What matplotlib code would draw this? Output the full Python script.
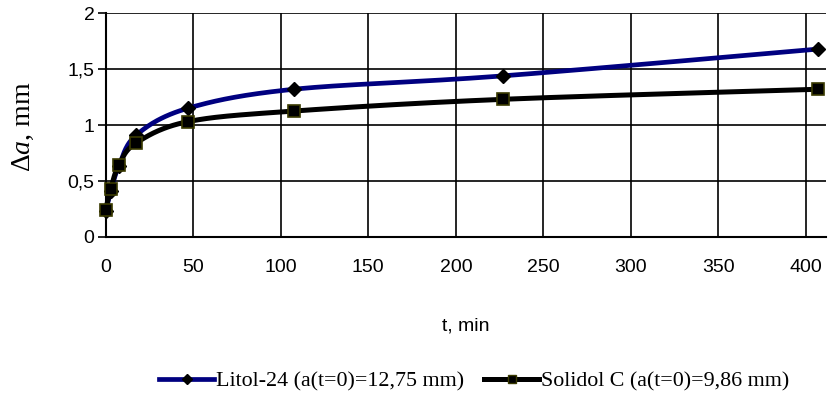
import numpy as np
import matplotlib
matplotlib.use("Agg")
import matplotlib.pyplot as plt
from matplotlib.lines import Line2D

plt.rcParams["mathtext.fontset"] = "custom"
plt.rcParams["mathtext.rm"] = "Liberation Serif"
plt.rcParams["mathtext.it"] = "Liberation Serif:italic"

# ---- data ----
t_min = [0, 3, 7.5, 17.5, 47, 107.5, 227, 407]
litol = [0.23, 0.41, 0.63, 0.91, 1.15, 1.32, 1.44, 1.68]
solidol = [0.24, 0.43, 0.64, 0.84, 1.03, 1.125, 1.23, 1.32]
x_ticks = [0, 50, 100, 150, 200, 250, 300, 350, 400]
y_ticks = [0, 0.5, 1, 1.5, 2]
y_tick_labels = ["0", "0,5", "1", "1,5", "2"]
series_labels = ["Litol-24 (a(t=0)=12,75 mm)", "Solidol C (a(t=0)=9,86 mm)"]

W, H = 831, 394
fig = plt.figure(figsize=(W / 100, H / 100), dpi=100)
L, R, B, T = 105.6, 826, 236.7, 13.3
ax = fig.add_axes([L / W, (H - B) / H, (R - L) / W, (B - T) / H])
xmax = 411.4
ax.set_xlim(0, xmax)
ax.set_ylim(0, 2)

sx = (R - L) / xmax
sy = (B - T) / 2.0


def smooth(xs, ys, n=40):
    # Excel-style smoothed line: cubic Bezier with Catmull-Rom tangents (1/6), in pixel space
    P = np.column_stack([np.asarray(xs) * sx, np.asarray(ys) * sy])
    out = []
    m = len(P)
    for i in range(m - 1):
        p0 = P[i - 1] if i > 0 else P[i]
        p1, p2 = P[i], P[i + 1]
        p3 = P[i + 2] if i + 2 < m else P[i + 1]
        c1 = p1 + (p2 - p0) / 6.0
        c2 = p2 - (p3 - p1) / 6.0
        s = np.linspace(0, 1, n)[:, None]
        seg = ((1 - s) ** 3) * p1 + 3 * ((1 - s) ** 2) * s * c1 + 3 * (1 - s) * s ** 2 * c2 + s ** 3 * p2
        out.append(seg if i == 0 else seg[1:])
    out = np.vstack(out)
    return out[:, 0] / sx, out[:, 1] / sy


blue = "#000080"
olive = "#3a3a00"

lx, ly = smooth(t_min, litol)
sxs, sys_ = smooth(t_min, solidol)
ax.plot(lx, ly, color=blue, lw=3.4, solid_capstyle="round", zorder=3, clip_on=False)
ax.plot(t_min, litol, ls="none", marker="D", ms=7.5, mfc="black", mec="black", zorder=4, clip_on=False)
ax.plot(sxs, sys_, color="black", lw=3.6, solid_capstyle="round", zorder=5, clip_on=False)
ax.plot(t_min, solidol, ls="none", marker="s", ms=8.5, mfc="black", mec=olive, mew=1.2, zorder=6, clip_on=False)

# grid & axes
ax.set_xticks(x_ticks)
ax.set_yticks(y_ticks)
ax.set_yticklabels(y_tick_labels)
ax.grid(True, color="black", lw=1.2)
ax.set_axisbelow(True)
for s in ["top", "right"]:
    ax.spines[s].set_visible(False)
for s in ["left", "bottom"]:
    ax.spines[s].set_linewidth(1.5)
    ax.spines[s].set_color("black")
ax.tick_params(axis="x", length=0, pad=16)
ax.tick_params(axis="y", length=6, width=1.2, direction="out", pad=2)
for lab in ax.get_xticklabels() + ax.get_yticklabels():
    lab.set_fontfamily("Liberation Sans")
    lab.set_fontsize(14)

# labels
fig.text(466 / W, (H - 326) / H, "t, min", ha="center", va="center", fontfamily="Liberation Sans", fontsize=14)
fig.text(23 / W, (H - 127) / H, "Δ$\\mathit{a}$, mm", rotation=90, ha="center", va="center",
         fontfamily="Liberation Serif", fontsize=20)

# legend
h1 = Line2D([], [], color=blue, lw=3.4, marker="D", ms=5, mfc="black", mec="black")
h2 = Line2D([], [], color="black", lw=3.6, marker="s", ms=6, mfc="black", mec=olive)
leg = fig.legend([h1, h2], series_labels, loc="center", bbox_to_anchor=(474.5 / W, (H - 381) / H),
                 ncol=2, frameon=False, handlelength=2.5, handletextpad=0.1, columnspacing=0.9,
                 prop=dict(family="Liberation Serif", size=15.8), borderaxespad=0, borderpad=0)

fig.savefig("out.png", dpi=100)
